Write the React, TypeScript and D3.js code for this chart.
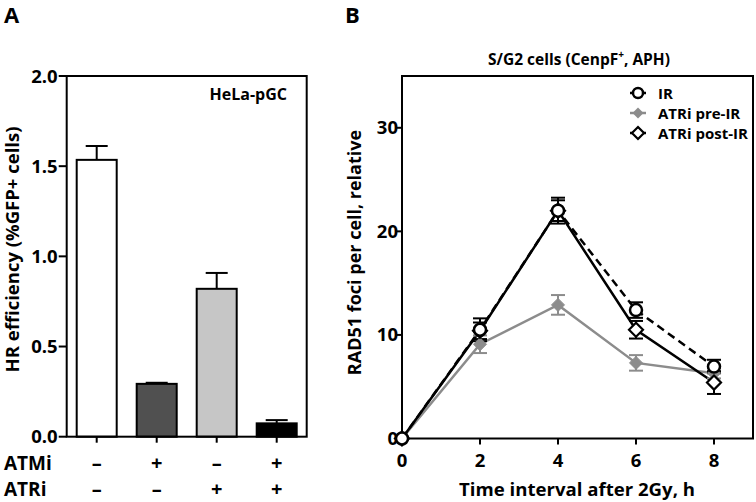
import React from "react";
import * as d3 from "d3";

const barCategories = ["c1", "c2", "c3", "c4"];
const barValues = [1.535, 0.293, 0.82, 0.074];
const barErrors = [0.077, 0.006, 0.088, 0.018];
const barColors = ["#ffffff", "#505050", "#c6c6c6", "#000000"];
const atmiSigns = ["–", "+", "–", "+"];
const atriSigns = ["–", "–", "+", "+"];
const barYTicks = [0, 0.5, 1.0, 1.5, 2.0];

const timePoints = [0, 2, 4, 6, 8];
const irValues = [0, 10.5, 22.0, 12.4, 6.95];
const irErrors = [0, 1.1, 1.25, 0.75, 0.65];
const preValues = [0, 9.1, 12.9, 7.3, 6.3];
const preErrors = [0, 0.85, 0.95, 0.75, 0.5];
const postValues = [0, 10.4, 22.0, 10.5, 5.4];
const postErrors = [0, 0.8, 1.0, 0.85, 1.1];
const lineXTicks = [0, 2, 4, 6, 8];
const lineYTicks = [0, 10, 20, 30];

const FONT = "'Open Sans', Lato, sans-serif";

export default function App() {
  // Panel A
  const aLeft = 66.7, aRight = 306.7, aTop = 76, aBottom = 436.7;
  const xA = d3.scaleBand<string>().domain(barCategories).range([aLeft, aRight]).paddingInner(1 / 3).paddingOuter(1 / 6);
  const yA = d3.scaleLinear().domain([0, 2]).range([aBottom, aTop]);
  const bw = xA.bandwidth();

  // Panel B
  const bLeft = 402, bRight = 753, bTop = 76, bBottom = 438.5;
  const xB = d3.scaleLinear().domain([0, 9]).range([bLeft, bRight]);
  const yB = d3.scaleLinear().domain([0, 35]).range([bBottom, bTop]);
  const line = (vals: number[]) =>
    d3.line<number>().x((_, i) => xB(timePoints[i])).y((v) => yB(v))(vals) || "";

  const errBars = (vals: number[], errs: number[], color: string) =>
    vals.map((v, i) =>
      errs[i] > 0 ? (
        <g key={i} stroke={color} strokeWidth={2}>
          <line x1={xB(timePoints[i])} x2={xB(timePoints[i])} y1={yB(v - errs[i])} y2={yB(v + errs[i])} />
          <line x1={xB(timePoints[i]) - 7} x2={xB(timePoints[i]) + 7} y1={yB(v + errs[i])} y2={yB(v + errs[i])} />
          <line x1={xB(timePoints[i]) - 7} x2={xB(timePoints[i]) + 7} y1={yB(v - errs[i])} y2={yB(v - errs[i])} />
        </g>
      ) : null
    );

  const diamond = (cx: number, cy: number, r: number) =>
    `M${cx},${cy - r}L${cx + r},${cy}L${cx},${cy + r}L${cx - r},${cy}Z`;

  return (
    <svg width={756} height={502} style={{ position: "absolute", left: 0, top: 0, background: "#fff" }} fontFamily={FONT} fontWeight="bold">
      <rect width={756} height={502} fill="#fff" />
      {/* Panel labels */}
      <text x={4} y={23} fontSize={22} fill="#000">A</text>
      <text x={345} y={23} fontSize={22} fill="#000">B</text>

      {/* ===== Panel A ===== */}
      {barCategories.map((c, i) => {
        const x = xA(c)!;
        const cx = x + bw / 2;
        return (
          <g key={c}>
            <line x1={cx} x2={cx} y1={yA(barValues[i])} y2={yA(barValues[i] + barErrors[i])} stroke="#000" strokeWidth={2} />
            <line x1={cx - 11} x2={cx + 11} y1={yA(barValues[i] + barErrors[i])} y2={yA(barValues[i] + barErrors[i])} stroke="#000" strokeWidth={2} />
            <rect x={x} y={yA(barValues[i])} width={bw} height={aBottom - yA(barValues[i])} fill={barColors[i]} stroke="#000" strokeWidth={2} />
            <line x1={cx} x2={cx} y1={aBottom} y2={aBottom + 6} stroke="#000" strokeWidth={2} />
            <text x={cx} y={470} textAnchor="middle" fontSize={20}>{atmiSigns[i]}</text>
            <text x={cx} y={496} textAnchor="middle" fontSize={20}>{atriSigns[i]}</text>
          </g>
        );
      })}
      <rect x={aLeft} y={aTop} width={aRight - aLeft} height={aBottom - aTop} fill="none" stroke="#000" strokeWidth={2} />
      {barYTicks.map((t) => (
        <g key={t}>
          <line x1={aLeft - 8} x2={aLeft} y1={yA(t)} y2={yA(t)} stroke="#000" strokeWidth={2} />
          <text x={aLeft - 9} y={yA(t) + 6.5} textAnchor="end" fontSize={18.5}>{t.toFixed(1)}</text>
        </g>
      ))}
      <text transform={`translate(19,249.5) rotate(-90)`} textAnchor="middle" fontSize={18.5}>
        HR efficiency (%GFP+ cells)
      </text>
      <text x={287} y={100} textAnchor="end" fontSize={16}>HeLa-pGC</text>
      <text x={4} y={470} fontSize={19}>ATMi</text>
      <text x={4} y={496} fontSize={19}>ATRi</text>

      {/* ===== Panel B ===== */}
      <text x={579} y={65} textAnchor="middle" fontSize={15.5}>
        S/G2 cells (CenpF<tspan dy={-7} fontSize={10}>+</tspan><tspan dy={7}>, APH)</tspan>
      </text>
      <rect x={bLeft} y={bTop} width={bRight - bLeft} height={bBottom - bTop} fill="none" stroke="#000" strokeWidth={2} />
      {lineYTicks.map((t) => (
        <g key={t}>
          <line x1={bLeft - 5} x2={bLeft} y1={yB(t)} y2={yB(t)} stroke="#000" strokeWidth={2} />
          <text x={bLeft - 4} y={yB(t) + 6.5} textAnchor="end" fontSize={18.5}>{t}</text>
        </g>
      ))}
      {lineXTicks.map((t) => (
        <g key={t}>
          <line x1={xB(t)} x2={xB(t)} y1={bBottom} y2={bBottom + 6} stroke="#000" strokeWidth={2} />
          <text x={xB(t)} y={467} textAnchor="middle" fontSize={18.5}>{t}</text>
        </g>
      ))}
      <text transform={`translate(361,252.5) rotate(-90)`} textAnchor="middle" fontSize={18}>
        RAD51 foci per cell, relative
      </text>
      <text x={577} y={496} textAnchor="middle" fontSize={18.6}>Time interval after 2Gy, h</text>

      {/* lines */}
      <path d={line(preValues)} fill="none" stroke="#8c8c8c" strokeWidth={2.5} />
      <path d={line(postValues)} fill="none" stroke="#000" strokeWidth={2.5} />
      <path d={line(irValues)} fill="none" stroke="#000" strokeWidth={2.5} strokeDasharray="8,5" />
      {errBars(preValues, preErrors, "#8c8c8c")}
      {errBars(postValues, postErrors, "#000")}
      {errBars(irValues, irErrors, "#000")}
      {preValues.map((v, i) => (
        <path key={"p" + i} d={diamond(xB(timePoints[i]), yB(v), 6.5)} fill="#8c8c8c" stroke="#8c8c8c" strokeWidth={1} />
      ))}
      {postValues.map((v, i) => (
        <path key={"d" + i} d={diamond(xB(timePoints[i]), yB(v), 7)} fill="#fff" stroke="#000" strokeWidth={2.2} />
      ))}
      {irValues.map((v, i) => (
        <circle key={"c" + i} cx={xB(timePoints[i])} cy={yB(v)} r={6} fill="#fff" stroke="#000" strokeWidth={2.5} />
      ))}

      {/* legend */}
      <g>
        <line x1={630} x2={646} y1={93} y2={93} stroke="#000" strokeWidth={2.5} />
        <circle cx={638} cy={93} r={5} fill="#fff" stroke="#000" strokeWidth={2.5} />
        <text x={658} y={99} fontSize={15}>IR</text>
        <line x1={630} x2={646} y1={113} y2={113} stroke="#8c8c8c" strokeWidth={2.5} />
        <path d={diamond(638, 113, 5.5)} fill="#8c8c8c" />
        <text x={658} y={119} fontSize={15}>ATRi pre-IR</text>
        <line x1={630} x2={646} y1={133} y2={133} stroke="#000" strokeWidth={2.5} />
        <path d={diamond(638, 133, 6)} fill="#fff" stroke="#000" strokeWidth={2.2} />
        <text x={658} y={139} fontSize={15}>ATRi post-IR</text>
      </g>
    </svg>
  );
}
